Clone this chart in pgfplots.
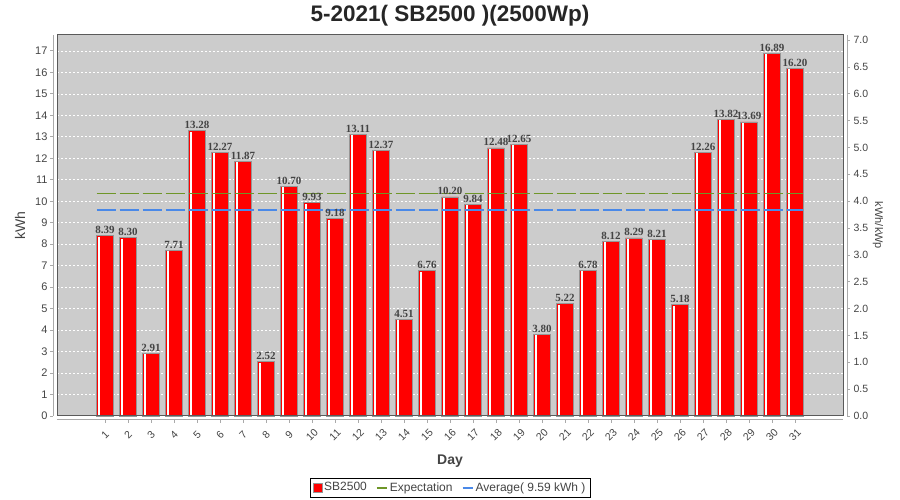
\documentclass[border=0pt]{standalone}
\usepackage{fontspec}
\setmainfont{Liberation Sans}
\newfontfamily\serifb{Liberation Serif}
\usepackage{pgfplots}
\usepackage{pgfplotstable}
\pgfplotsset{compat=1.18}
\definecolor{bgc}{RGB}{204,204,204}
\definecolor{greenline}{RGB}{110,150,40}
\definecolor{blueline}{RGB}{74,137,232}
\definecolor{txt}{RGB}{68,68,68}
\definecolor{axc}{RGB}{170,170,170}
\definecolor{brd}{RGB}{90,90,90}
\definecolor{barbrd}{RGB}{150,150,150}

\pgfplotstableread{
day y
1 8.39
2 8.30
3 2.91
4 7.71
5 13.28
6 12.27
7 11.87
8 2.52
9 10.70
10 9.93
11 9.18
12 13.11
13 12.37
14 4.51
15 6.76
16 10.20
17 9.84
18 12.48
19 12.65
20 3.80
21 5.22
22 6.78
23 8.12
24 8.29
25 8.21
26 5.18
27 12.26
28 13.82
29 13.69
30 16.89
31 16.20
}\daydata

\pgfplotstableread{
x y
0.63 10.37
31.37 10.37
}\expdata

\pgfplotstableread{
x y
0.63 9.59
31.37 9.59
}\avgdata

\begin{document}
\begin{tikzpicture}
\path[use as bounding box] (0,0) rectangle (900pt,500pt);
\begin{axis}[
  at={(57pt,84pt)}, anchor=south west,
  width=786pt, height=381pt, scale only axis,
  xmin=-1.09, xmax=33.09, ymin=0, ymax=17.74,
  axis background/.style={fill=bgc},
  axis x line=bottom, axis y line=left,
  axis line style={-, draw=axc, line width=1pt},
  axis x line shift=4pt, axis y line shift=4pt,
  xtick={1,...,31}, ytick={0,1,...,17},
  tick align=outside, major tick length=3pt,
  tick style={draw=axc, line width=0.8pt},
  ymajorgrids, grid style={white, dash pattern=on 2pt off 2pt, line width=0.6pt},
  /pgf/number format/assume math mode=true,
  yticklabel style={font=\fontsize{11}{11}\selectfont, text=txt, xshift=1pt},
  xticklabel style={font=\fontsize{10.5}{10.5}\selectfont, text=txt, yshift=-12pt, rotate=45, anchor=center},
  xlabel={Day},
  xlabel style={at={(axis description cs:0.5,-0.118)}, anchor=center, font=\bfseries\fontsize{14}{14}\selectfont, text=txt},
  ylabel={kWh},
  ylabel style={at={(axis description cs:-0.047,0.5)}, anchor=center, font=\fontsize{14}{14}\selectfont, text=txt},
  title={5-2021( SB2500 )(2500Wp)},
  title style={at={(axis description cs:0.5,1.034)}, anchor=center, font=\bfseries\fontsize{22.5}{22.5}\selectfont, text=black!85},
  legend style={at={(axis description cs:0.5,-0.1877)}, anchor=center, draw=black, line width=0.8pt,
    font=\fontsize{12}{12}\selectfont, text=txt, inner sep=2.5pt,
    /tikz/every even column/.append style={column sep=7pt}},
  legend columns=-1,
  clip=false,
]
\addplot[ybar, bar width=17pt, bar shift=0pt, fill=red, draw=barbrd, line width=0.8pt,
  legend image code/.code={\draw[fill=red, draw=barbrd, line width=0.6pt] (0pt,-4.5pt) rectangle (9pt,4.5pt);},
  nodes near coords={\pgfmathprintnumber[fixed,fixed zerofill,precision=2,assume math mode=true]{\pgfplotspointmeta}},
  nodes near coords style={font=\serifb\bfseries\fontsize{11}{11}\selectfont, text=txt, anchor=south, inner sep=1.5pt}]
  table[x=day, y=y] {\daydata};
\addlegendentry{SB2500}
\addplot[ybar, bar width=1.8pt, bar shift=-6pt, fill=white, draw=white, line width=0pt, forget plot]
  table[x=day, y expr=\thisrow{y}-0.06] {\daydata};
\addplot[color=greenline, draw=greenline, line width=1.5pt, dash pattern=on 19pt off 4pt,
  legend image code/.code={\draw[draw=greenline, line width=2pt] (0pt,0pt) -- (10pt,0pt);}]
  table[x=x, y=y] {\expdata};
\addlegendentry{Expectation}
\addplot[color=blueline, draw=blueline, line width=1.5pt, dash pattern=on 19pt off 4pt,
  legend image code/.code={\draw[draw=blueline, line width=2pt] (0pt,0pt) -- (10pt,0pt);}]
  table[x=x, y=y] {\avgdata};
\addlegendentry{Average( 9.59 kWh )}
\draw[brd, line width=1pt] (rel axis cs:0,0) rectangle (rel axis cs:1,1);
\end{axis}
\begin{axis}[
  at={(57pt,84pt)}, anchor=south west,
  width=786pt, height=381pt, scale only axis,
  xmin=-1.09, xmax=33.09, ymin=0, ymax=7.096,
  axis x line=none, axis y line=right,
  axis line style={-, draw=axc, line width=1pt},
  axis y line shift=4pt,
  ytick={0,0.5,...,7.0},
  tick align=outside, major tick length=3pt,
  tick style={draw=axc, line width=0.8pt},
  /pgf/number format/assume math mode=true,
  yticklabel={\pgfmathprintnumber[fixed,fixed zerofill,precision=1,assume math mode=true]{\tick}},
  yticklabel style={font=\fontsize{10.5}{10.5}\selectfont, text=txt},
  ylabel={kWh/kWp},
  ylabel style={at={(axis description cs:1.0445,0.5)}, anchor=center, rotate=180, font=\fontsize{11}{11}\selectfont, text=txt},
]
\addplot[draw=none, forget plot] coordinates {(1,0)};
\end{axis}
\end{tikzpicture}
\end{document}
